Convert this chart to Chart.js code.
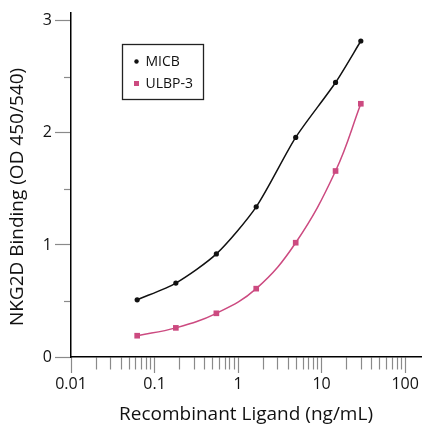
<!DOCTYPE html>
<html>
<head>
<meta charset="utf-8">
<script src="https://cdn.jsdelivr.net/npm/chart.js@4.4.1/dist/chart.umd.min.js"></script>
<style>
    html, body { margin: 0; padding: 0; background: #fff; }
</style>
</head>
<body>
<canvas id="chartBinding" width="425" height="425"></canvas>
<script>
// Datos
const concentraciones = [0.062, 0.18, 0.55, 1.65, 4.9, 14.7, 29.5]; // ng/mL
const micb = [0.51, 0.66, 0.92, 1.34, 1.96, 2.45, 2.82];
const ulbp3 = [0.19, 0.26, 0.39, 0.61, 1.02, 1.66, 2.26];

const xDecadas = [0.01, 0.1, 1, 10, 100];
const xEtiquetas = ['0.01', '0.1', '1', '10', '100'];
const yTicks = [0, 1, 2, 3];
const yTicksMenores = [0.5, 1.5, 2.5];
const tituloY = 'NKG2D Binding (OD 450/540)';

// ticks menores 2..9 de cada decada
const xTicks = [];
xDecadas.forEach((d, i) => {
    xTicks.push(d);
    if (i < xDecadas.length - 1) {
        for (let m = 2; m <= 9; m++) xTicks.push(+(d * m).toPrecision(3));
    }
});

const FONT = '"Open Sans", sans-serif';
const ROSA = '#cc4a80';
const GRIS = '#8a8a8a';

const toPoints = ys => concentraciones.map((x, i) => ({ x: x, y: ys[i] }));

const extrasPlugin = {
    id: 'extras',
    afterDatasetsDraw(chart) {
        const { ctx, chartArea, scales } = chart;
        ctx.save();

        // ticks menores del eje Y (cortos, pegados al eje)
        ctx.strokeStyle = GRIS;
        ctx.lineWidth = 1.2;
        yTicksMenores.forEach(v => {
            const py = Math.round(scales.y.getPixelForValue(v)) + 0.5;
            ctx.beginPath();
            ctx.moveTo(chartArea.left - 7, py);
            ctx.lineTo(chartArea.left - 1, py);
            ctx.stroke();
        });

        // leyenda con recuadro
        const x0 = chartArea.left + 51.5;
        const y0 = chartArea.top + 31.5;
        ctx.strokeStyle = '#222';
        ctx.lineWidth = 1.3;
        ctx.strokeRect(x0, y0, 81, 55);
        ctx.font = '14px ' + FONT;
        ctx.textBaseline = 'middle';
        chart.data.datasets.forEach((ds, i) => {
            const y = y0 + 17 + i * 22;
            ctx.fillStyle = ds.backgroundColor;
            if (ds.pointStyle === 'rect') {
                ctx.fillRect(x0 + 11.5, y - 2.5, 5, 5);
            } else {
                ctx.beginPath();
                ctx.arc(x0 + 14, y, 2.2, 0, Math.PI * 2);
                ctx.fill();
            }
            ctx.fillStyle = '#111';
            ctx.fillText(ds.label, x0 + 23, y + 0.5);
        });

        // titulo del eje Y (un poco por debajo del centro, como en el original)
        ctx.translate(18, (chartArea.top + chartArea.bottom) / 2 + 12);
        ctx.rotate(-Math.PI / 2);
        ctx.font = '19px ' + FONT;
        ctx.textAlign = 'center';
        ctx.fillStyle = '#111';
        ctx.fillText(tituloY, 0, 0);
        ctx.restore();
    }
};

const ctx = document.getElementById('chartBinding').getContext('2d');

new Chart(ctx, {
    type: 'scatter',
    data: {
        datasets: [{
            label: 'MICB',
            data: toPoints(micb),
            showLine: true,
            borderColor: '#111',
            backgroundColor: '#111',
            borderWidth: 1.5,
            pointStyle: 'circle',
            pointRadius: 2.6,
            pointBorderWidth: 0,
            tension: 0.25
        }, {
            label: 'ULBP-3',
            data: toPoints(ulbp3),
            showLine: true,
            borderColor: ROSA,
            backgroundColor: ROSA,
            borderWidth: 1.5,
            pointStyle: 'rect',
            pointRadius: 4,
            pointBorderWidth: 0,
            tension: 0.4
        }]
    },
    options: {
        responsive: false,
        animation: false,
        layout: { padding: { top: 13, right: 0, left: 0, bottom: 0 } },
        plugins: {
            legend: { display: false },
            tooltip: { enabled: false }
        },
        scales: {
            x: {
                type: 'logarithmic',
                min: 0.01,
                max: 155,
                afterBuildTicks: scale => {
                    scale.ticks = xTicks.map(v => ({ value: v }));
                },
                afterFit: scale => { scale.height = 68; },
                ticks: {
                    autoSkip: false,
                    maxRotation: 0,
                    padding: 2,
                    color: '#111',
                    font: { family: FONT, size: 16 },
                    callback: v => {
                        const i = xDecadas.indexOf(v);
                        return i >= 0 ? xEtiquetas[i] : '';
                    }
                },
                grid: {
                    display: true,
                    drawOnChartArea: false,
                    drawTicks: true,
                    tickLength: 16,
                    tickColor: GRIS,
                    tickWidth: 1.2,
                    tickBorderDash: c => xDecadas.includes(c.tick.value) ? [] : [12, 100]
                },
                border: { display: true, color: '#000', width: 1.5 },
                title: {
                    display: true,
                    text: 'Recombinant Ligand (ng/mL)',
                    color: '#111',
                    font: { family: FONT, size: 19, lineHeight: 1.1 },
                    padding: { top: 0, bottom: 0 }
                }
            },
            y: {
                min: 0,
                max: 3.07,
                afterBuildTicks: scale => {
                    scale.ticks = yTicks.map(v => ({ value: v }));
                },
                afterFit: scale => { scale.width = 71; },
                ticks: {
                    autoSkip: false,
                    padding: 3,
                    color: '#111',
                    font: { family: FONT, size: 16 }
                },
                grid: {
                    display: true,
                    drawOnChartArea: false,
                    drawTicks: true,
                    tickLength: 16,
                    tickColor: GRIS,
                    tickWidth: 1.2
                },
                border: { display: true, color: '#000', width: 1.5 },
                title: { display: false }
            }
        }
    },
    plugins: [extrasPlugin]
});
</script>
</body>
</html>
